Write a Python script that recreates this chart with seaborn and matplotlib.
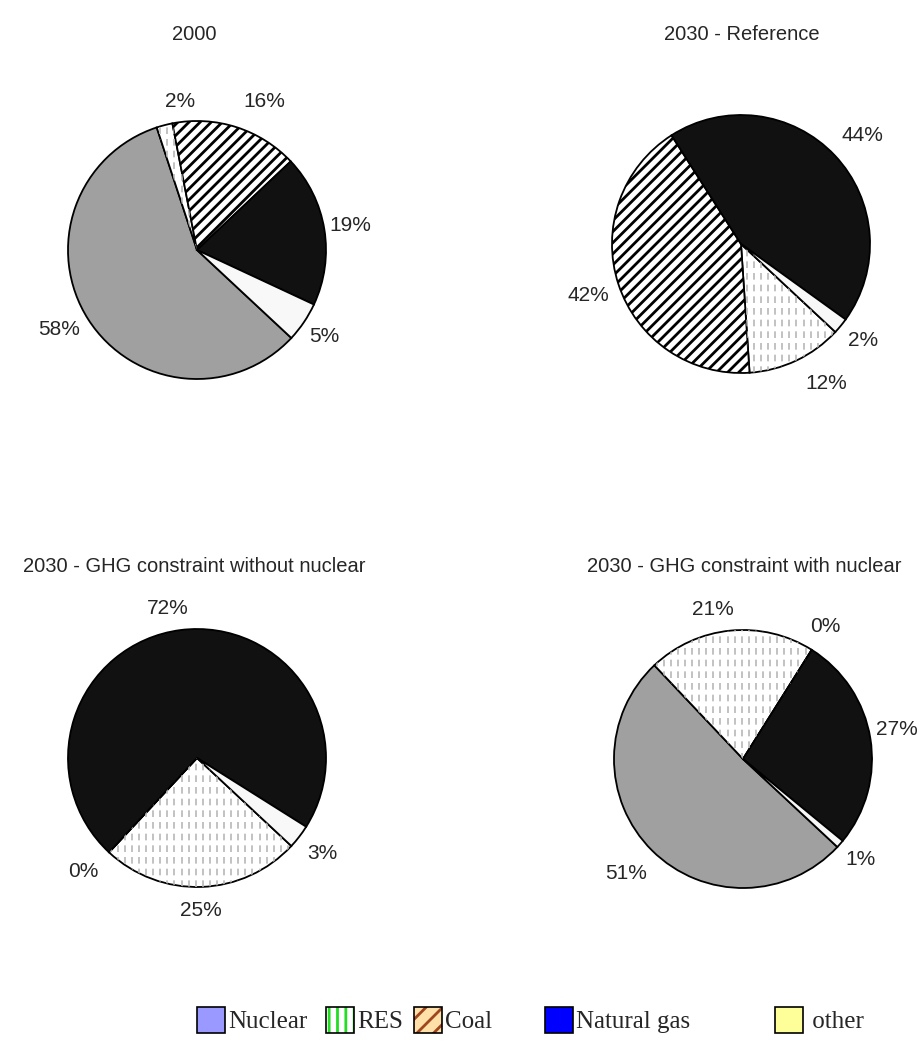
import numpy as np
import matplotlib
matplotlib.use("Agg")
import matplotlib.pyplot as plt
from matplotlib.patches import Patch
import seaborn as sns

# data (shares in %, order: Nuclear, RES, Coal, Natural gas, other)
sources = ["Nuclear", "RES", "Coal", "Natural gas", "other"]
titles = ["2000", "2030 - Reference",
          "2030 - GHG constraint without nuclear", "2030 - GHG constraint with nuclear"]
share_2000 = [58, 2, 16, 19, 5]
share_ref = [0, 12, 42, 44, 2]
share_ghg_nonuc = [0, 25, 0, 72, 3]
share_ghg_nuc = [51, 21, 0, 27, 1]
# which slices carry a label (Excel left the empty nuclear ones blank)
show_2000 = [True, True, True, True, True]
show_ref = [False, True, True, True, True]
show_ghg_nonuc = [False, True, True, True, True]
show_ghg_nuc = [True, True, True, True, True]

sns.set_style("white")
plt.rcParams["font.family"] = ["Liberation Sans", "DejaVu Sans"]
plt.rcParams["hatch.linewidth"] = 2.0

pie_colors = ["#a0a0a0", "#ffffff", "#ffffff", "#111111", "#f8f8f8"]
pie_hatch = [None, None, "///", None, None]
leg_colors = ["#9999ff", "#ffffff", "#ffe0a8", "#0000ff", "#ffff99"]

W, H = 923, 1047
R = 129  # pie radius in px
fig = plt.figure(figsize=(W / 100, H / 100), dpi=100)

# pie centres (px) and label offsets (in radii) per slice
centres = [(197, 250), (741, 244), (197, 758), (743, 759)]
title_pos = [(194, 34), (742, 34), (194, 566), (744, 566)]
label_off = [
    [(-1.07, -0.62), (-0.13, 1.15), (0.52, 1.15), (1.19, 0.19), (0.99, -0.67)],
    [(0, 0), (0.66, -1.08), (-1.18, -0.40), (0.94, 0.84), (0.95, -0.75)],
    [(0, 0), (0.03, -1.18), (-0.88, -0.88), (-0.23, 1.16), (0.97, -0.74)],
    [(-0.91, -0.89), (-0.23, 1.16), (0.64, 1.03), (1.19, 0.23), (0.91, -0.78)],
]

datasets = [share_2000, share_ref, share_ghg_nonuc, share_ghg_nuc]
shows = [show_2000, show_ref, show_ghg_nonuc, show_ghg_nuc]

for i, (vals, show) in enumerate(zip(datasets, shows)):
    cx, cy = centres[i]
    ax = fig.add_axes([(cx - R) / W, 1 - (cy + R) / H, 2 * R / W, 2 * R / H])
    wedges, _ = ax.pie(vals, colors=pie_colors, startangle=-43, counterclock=False,
                       radius=1, wedgeprops=dict(edgecolor="black", linewidth=1.3))
    for w, h in zip(wedges, pie_hatch):
        if h:
            w.set_hatch(h)
    # RES: light grey dashed vertical lines clipped to the slice
    res = wedges[1]
    if vals[1] > 0:
        xs = np.arange(-1, 1.01, 0.055)
        lines = ax.vlines(xs, -1, 1, colors="#b8b8b8", linestyles=(0, (4, 3)), linewidth=1.2)
        lines.set_clip_path(res)
    ax.set_xlim(-1, 1)
    ax.set_ylim(-1, 1)
    ax.set_aspect("equal")
    ax.axis("off")
    for v, s, (dx, dy) in zip(vals, show, label_off[i]):
        if s:
            ax.text(dx, dy, f"{v}%", ha="center", va="center", fontsize=15, clip_on=False)
    tx, ty = title_pos[i]
    fig.text(tx / W, 1 - ty / H, titles[i], ha="center", va="center", fontsize=14.5)

# legend (the original keeps the coloured key), one entry per box so the
# uneven Excel spacing can be kept
res_key = Patch(facecolor="white", edgecolor="#22dd22", hatch="||", linewidth=0)
if hasattr(res_key, "set_hatch_linewidth"):
    res_key.set_hatch_linewidth(1.2)
handles = [
    Patch(facecolor=leg_colors[0], edgecolor="black", linewidth=1.2),
    (res_key, Patch(facecolor="none", edgecolor="black", linewidth=1.2)),
    (Patch(facecolor=leg_colors[2], edgecolor="#a0461e", hatch="//", linewidth=0),
     Patch(facecolor="none", edgecolor="black", linewidth=1.2)),
    Patch(facecolor=leg_colors[3], edgecolor="black", linewidth=1.2),
    Patch(facecolor=leg_colors[4], edgecolor="black", linewidth=1.2),
]
labels = ["Nuclear", "RES", "Coal", "Natural gas", " other"]
leg_x = [197, 326, 414, 545, 775]
for h, lab, x in zip(handles, labels, leg_x):
    leg = fig.legend([h], [lab], loc="center left", bbox_to_anchor=(x / W, 1 - 1020 / H),
                     frameon=False, prop={"family": "Liberation Serif", "size": 18},
                     handlelength=1.1, handleheight=1.2, handletextpad=0.15,
                     borderpad=0, borderaxespad=0)

fig.savefig("out.png", dpi=100)
